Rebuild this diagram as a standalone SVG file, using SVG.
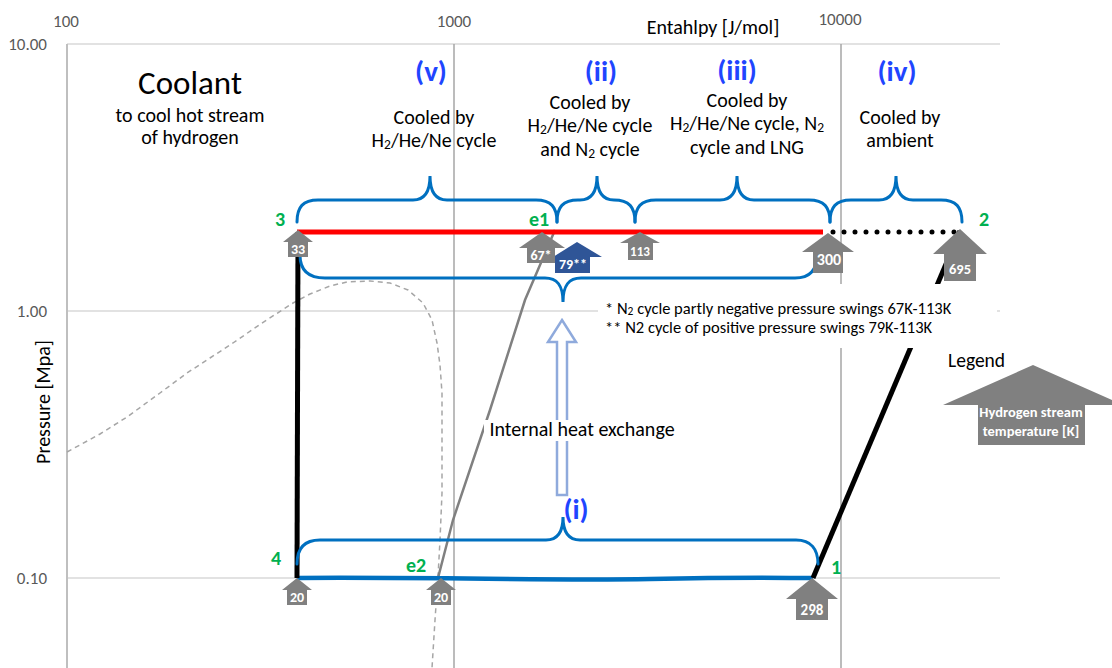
<svg xmlns="http://www.w3.org/2000/svg" width="1112" height="668" viewBox="0 0 1112 668">
<defs>
<style>
.t{font-family:Carlito,Calibri,Lato,'Liberation Sans',sans-serif;}
.ax{font-size:17px;fill:#595959;}
.hdr{font-size:20px;fill:#000;text-anchor:middle;}
.sub{font-size:13.5px;}
.sec{font-size:29px;font-weight:bold;fill:#1F45FF;text-anchor:middle;}
.pt{font-size:20px;font-weight:bold;fill:#00B050;}
.tm{fill:#808080;}
.tmt{fill:#fff;font-weight:bold;text-anchor:middle;}
.brace{fill:none;stroke:#0070C0;stroke-width:3;stroke-linecap:round;}
.gv{stroke:#A6A6A6;stroke-width:1.5;}
.gh{stroke:#D9D9D9;stroke-width:1.5;}
</style>
</defs>
<rect width="1112" height="668" fill="#fff"/>

<g id="grid">
<line class="gh" x1="67" y1="44" x2="1000" y2="44"/>
<line class="gh" x1="67" y1="311" x2="1000" y2="311"/>
<line class="gh" x1="67" y1="578" x2="1000" y2="578"/>
<line x1="67" y1="44" x2="67" y2="668" stroke="#BFBFBF" stroke-width="2"/>
<line class="gv" x1="454" y1="44" x2="454" y2="668"/>
<line class="gv" x1="841" y1="44" x2="841" y2="668"/>
<text class="t ax" x="66" y="27" text-anchor="middle">100</text>
<text class="t ax" x="454" y="27" text-anchor="middle">1000</text>
<text class="t ax" x="840" y="25" text-anchor="middle">10000</text>
<text class="t ax" x="47" y="50" text-anchor="end">10.00</text>
<text class="t ax" x="47" y="317" text-anchor="end">1.00</text>
<text class="t ax" x="47" y="584" text-anchor="end">0.10</text>
<text class="t" x="713" y="34" font-size="20" text-anchor="middle">Entahlpy [J/mol]</text>
<text class="t" transform="translate(50,402) rotate(-90)" font-size="20" text-anchor="middle">Pressure [Mpa]</text>
</g>

<g id="connectors">
<polyline fill="none" stroke="#A6A6A6" stroke-width="1.5" stroke-dasharray="5 4" points="67,452 100,434 127,417 160,393 187,373 210,358 233,343 262,323 293,303 310,294 330,286 347,282 370,281 390,283 408,290 423,303 432,320 437,343 440,365 442,393 442,493 440,540 438,577 435,620 432,668"/>
<polyline fill="none" stroke="#808080" stroke-width="2.5" points="438,578 453,520 490,410 525,300 555,230"/>
<path d="M297,578 C450,577 550,581 650,579 S780,578 813,578" fill="none" stroke="#0070C0" stroke-width="4.5"/>
<line x1="297" y1="232" x2="823" y2="232" stroke="#FF0000" stroke-width="5"/>
<line x1="833" y1="232" x2="958" y2="232" stroke="#000" stroke-width="5" stroke-dasharray="0 11" stroke-linecap="round"/>
<line x1="297" y1="578" x2="298" y2="232" stroke="#000" stroke-width="5"/>
<line x1="813" y1="578" x2="960" y2="231" stroke="#000" stroke-width="5"/>
</g>

<g id="braces">
<path class="brace" d="M297,222 C297,207 303,200 318,200 H413 C424,200 430,193 430,176 C430,193 436,200 447,200 H536 C551,200 557,207 557,222"/>
<path class="brace" d="M557,222 C557,207 563,200 578,200 H580 C591,200 597,193 597,176 C597,193 603,200 614,200 C629,200 635,207 635,222"/>
<path class="brace" d="M635,222 C635,207 641,200 656,200 H720 C731,200 737,193 737,176 C737,193 743,200 754,200 H809 C824,200 830,207 830,222"/>
<path class="brace" d="M830,222 C830,207 836,200 851,200 H879 C890,200 896,193 896,176 C896,193 902,200 913,200 H941 C956,200 962,207 962,222"/>
<path class="brace" d="M300,255 C300,270 308,278 325,278 H545 C557,278 563,285 563,302 C563,285 569,278 581,278 H795 C810,278 817,270 817,255"/>
<path class="brace" d="M297,564 C297,549 304,540 320,540 H546 C557,540 563,533 563,517 C563,533 569,540 580,540 H796 C811,540 818,549 818,564"/>
</g>

<g id="internal-heat-exchange">
<path d="M562,320 L576,342 L567,342 L567,495 L557,495 L557,342 L548,342 Z" fill="#fff" stroke="#8FAADC" stroke-width="2.5" stroke-linejoin="miter"/>
<rect x="484" y="420" width="198" height="21" fill="#fff"/>
<text class="t" x="582" y="436" font-size="20" text-anchor="middle">Internal heat exchange</text>
</g>

<g id="note">
<rect x="598" y="284" width="399" height="64" fill="#fff"/>
<text class="t" x="605" y="314" font-size="16.5">* N<tspan font-size="11.5" dy="1">2</tspan><tspan dy="-1"> cycle partly negative pressure swings 67K-113K</tspan></text>
<text class="t" x="605" y="333" font-size="16.5">** N2 cycle of positive pressure swings 79K-113K</text>
</g>

<g id="header-coolant">
<text class="t" x="190" y="94" font-size="33" text-anchor="middle">Coolant</text>
<text class="t hdr" x="190" y="122">to cool hot stream</text>
<text class="t hdr" x="190" y="144">of hydrogen</text>
</g>
<g id="section-v">
<text class="t sec" x="431" y="81">(v)</text>
<text class="t hdr" x="434" y="124">Cooled by</text>
<text class="t hdr" x="434" y="147">H<tspan class="sub" dy="2">2</tspan><tspan dy="-2">/He/Ne cycle</tspan></text>
</g>
<g id="section-ii">
<text class="t sec" x="601" y="81">(ii)</text>
<text class="t hdr" x="590" y="109">Cooled by</text>
<text class="t hdr" x="590" y="132">H<tspan class="sub" dy="2">2</tspan><tspan dy="-2">/He/Ne cycle</tspan></text>
<text class="t hdr" x="590" y="156">and N<tspan class="sub" dy="2">2</tspan><tspan dy="-2"> cycle</tspan></text>
</g>
<g id="section-iii">
<text class="t sec" x="737" y="80">(iii)</text>
<text class="t hdr" x="747" y="107">Cooled by</text>
<text class="t hdr" x="747" y="130">H<tspan class="sub" dy="2">2</tspan><tspan dy="-2">/He/Ne cycle, N</tspan><tspan class="sub" dy="2">2</tspan></text>
<text class="t hdr" x="747" y="154">cycle and LNG</text>
</g>
<g id="section-iv">
<text class="t sec" x="897" y="81">(iv)</text>
<text class="t hdr" x="900" y="124">Cooled by</text>
<text class="t hdr" x="900" y="147">ambient</text>
</g>
<g id="section-i">
<text class="t sec" x="576" y="519">(i)</text>
</g>

<g id="state-points">
<text class="t pt" x="275" y="226">3</text>
<text class="t pt" x="529" y="226">e1</text>
<text class="t pt" x="979" y="226">2</text>
<text class="t pt" x="271" y="565">4</text>
<text class="t pt" x="406" y="572">e2</text>
<text class="t pt" x="831" y="574">1</text>
</g>

<g id="marker-79">
<path d="M577,242 L602,257 L590,257 L590,273 L555,273 L555,257 L553,257 Z" fill="#2F5597"/>
<text class="t tmt" x="573" y="269" font-size="14">79**</text>
</g>
<g id="marker-67">
<path class="tm" d="M542,232 L565,248 L555,248 L555,263 L527,263 L527,248 L519,248 Z"/>
<text class="t tmt" x="541" y="260" font-size="14">67*</text>
</g>
<g id="marker-33">
<path class="tm" d="M298,230 L313,242 L308,242 L308,257 L288,257 L288,242 L283,242 Z"/>
<text class="t tmt" x="298" y="254" font-size="14">33</text>
</g>
<g id="marker-113">
<path class="tm" d="M640,232 L660,243 L653,243 L653,260 L628,260 L628,243 L620,243 Z"/>
<text class="t tmt" x="640" y="256" font-size="13">113</text>
</g>
<g id="marker-300">
<path class="tm" d="M828,233 L854,252 L843,252 L843,273 L813,273 L813,252 L802,252 Z"/>
<text class="t tmt" x="829" y="265" font-size="16">300</text>
</g>
<g id="marker-695">
<path class="tm" d="M960,229 L987,254 L976,254 L976,281 L944,281 L944,254 L933,254 Z"/>
<text class="t tmt" x="960" y="274" font-size="14.5">695</text>
</g>
<g id="marker-20a">
<path class="tm" d="M297,578 L312,590 L307,590 L307,605 L287,605 L287,590 L282,590 Z"/>
<text class="t tmt" x="297" y="602" font-size="14">20</text>
</g>
<g id="marker-20b">
<path class="tm" d="M441,578 L456,590 L451,590 L451,605 L431,605 L431,590 L426,590 Z"/>
<text class="t tmt" x="441" y="602" font-size="14">20</text>
</g>
<g id="marker-298">
<path class="tm" d="M812,578 L838,599 L828,599 L828,620 L796,620 L796,599 L786,599 Z"/>
<text class="t tmt" x="812" y="615" font-size="15">298</text>
</g>

<g id="legend">
<text class="t" x="948" y="367" font-size="19.5">Legend</text>
<path class="tm" d="M1033,365 L1123,405 L1085,405 L1085,445 L978,445 L978,405 L943,405 Z"/>
<text class="t tmt" x="1031" y="417" font-size="14.5">Hydrogen stream</text>
<text class="t tmt" x="1031" y="436" font-size="14.5">temperature [K]</text>
</g>
</svg>
